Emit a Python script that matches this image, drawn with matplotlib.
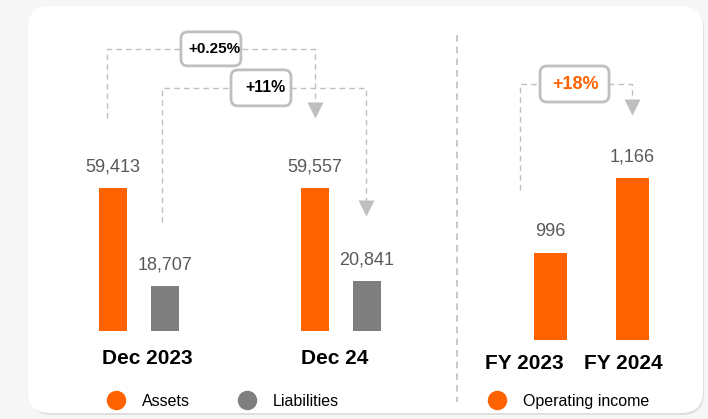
import numpy as np
import matplotlib.pyplot as plt
from matplotlib.patches import FancyBboxPatch
from matplotlib.lines import Line2D
from matplotlib.transforms import ScaledTranslation

plt.rcParams['font.family'] = ['Liberation Sans', 'DejaVu Sans']

# data
periods = ['Dec 2023', 'Dec 24']
assets = [59413, 59557]
liabilities = [18707, 20841]
years = ['FY 2023', 'FY 2024']
op_income = [996, 1166]
assets_change = '+0.25%'
liab_change = '+11%'
income_change = '+18%'

ORANGE = '#ff6200'
GREY = '#7f7f7f'
LINE = '#bfbfbf'
TEXT = '#595959'

W, H = 708, 419
fig = plt.figure(figsize=(W / 100, H / 100), dpi=100)
fig.patch.set_facecolor('#f6f6f6')


def px(x0, y0, x1, y1):
    # pixel box (top-left origin) -> figure fractions
    return [x0 / W, 1 - y1 / H, (x1 - x0) / W, (y1 - y0) / H]


# white card with a soft shadow
shadow = FancyBboxPatch((0.30, 0.04), 6.74, 4.07, boxstyle='round,pad=0,rounding_size=0.22',
                        transform=fig.dpi_scale_trans, fc='#dedede', ec='none', zorder=-6)
card = FancyBboxPatch((0.28, 0.06), 6.75, 4.07, boxstyle='round,pad=0,rounding_size=0.22',
                      transform=fig.dpi_scale_trans, fc='white', ec='none', zorder=-5)
fig.add_artist(shadow)
fig.add_artist(card)

# separator
fig.add_artist(Line2D([457 / W, 457 / W], [1 - 35 / H, 1 - 402 / H], transform=fig.transFigure,
                      color=LINE, lw=1.2, ls=(0, (4, 3))))


def clean(ax):
    ax.set_facecolor('none')
    for s in ax.spines.values():
        s.set_visible(False)
    ax.set_yticks([])
    ax.tick_params(axis='x', length=0)


def bracket(ax, x0, y0, x1, y1, ytop, label, lx, bx, bw, bh, color, size):
    ax.plot([x0, x0, x1, x1], [y0, ytop, ytop, y1], color=LINE, lw=1, ls=(0, (4, 3)))
    ax.plot(x1, y1, marker='v', ms=11.5, color=LINE, mec='none')
    # rounded label box, sized in pixels, anchored at (bx, ytop)
    tr = fig.dpi_scale_trans + ScaledTranslation(bx, ytop, ax.transData)
    box = FancyBboxPatch((-bw / 200, -bh / 200), bw / 100, bh / 100,
                         boxstyle='round,pad=0,rounding_size=0.07', transform=tr,
                         fc='white', ec=LINE, lw=2, zorder=3)
    ax.add_artist(box)
    ax.text(lx, ytop, label, ha='center', va='center', fontsize=size, fontweight='bold',
            color=color, zorder=4)


# ---- left: assets & liabilities
ax1 = fig.add_axes(px(28, 20, 450, 331))
clean(ax1)
x = np.arange(len(periods))
off, bw = 0.129, 0.139
ax1.bar(x - off, assets, bw, color=ORANGE)
ax1.bar(x + off, liabilities, bw, color=GREY)
for xi, v in zip(x - off, assets):
    ax1.annotate(f'{v:,}', (xi, v), xytext=(0, 15), textcoords='offset points',
                 ha='center', va='center', fontsize=13, color=TEXT)
for xi, v in zip(x + off, liabilities):
    ax1.annotate(f'{v:,}', (xi, v), xytext=(0, 15), textcoords='offset points',
                 ha='center', va='center', fontsize=13, color=TEXT)
ax1.set_xlim(-0.5495, 1.5396)
ax1.set_ylim(0, 129200)
ax1.set_xticks(x + np.array([0.042, -0.03]))
ax1.set_xticklabels(periods, fontsize=15, fontweight='bold')
ax1.tick_params(axis='x', pad=13)

bracket(ax1, -off - 0.03, 88500, 1 - off, 92000, 117200, assets_change, 0.371, 0.356, 60, 34, 'black', 11)
bracket(ax1, off - 0.015, 45300, 1 + off - 0.005, 51300, 101000, liab_change, 0.626, 0.604, 60, 36, 'black', 11.4)

ax1.legend(handles=[Line2D([], [], ls='none', marker='o', ms=13, color=ORANGE, label='Assets'),
                    Line2D([], [], ls='none', marker='o', ms=13, color=GREY, label='Liabilities')],
           loc='center left', bbox_to_anchor=(108 / W, 1 - 401 / H), bbox_transform=fig.transFigure,
           ncol=2, frameon=False, handlelength=1.0, handletextpad=1.1, columnspacing=3.1,
           borderpad=0, borderaxespad=0, prop={'size': 11.5})

# ---- right: operating income
ax2 = fig.add_axes(px(460, 20, 705, 340))
clean(ax2)
xr = np.arange(len(years))
ax2.bar(xr, op_income, 0.4, color=ORANGE)
for xi, v in zip(xr, op_income):
    ax2.annotate(f'{v:,}', (xi, v), xytext=(0, 15.5), textcoords='offset points',
                 ha='center', va='center', fontsize=13, color=TEXT)
ax2.set_xlim(-1.104, 1.884)
ax2.set_ylim(800, 1525)
ax2.set_xticks(xr + np.array([-0.317, -0.11]))
ax2.set_xticklabels(years, fontsize=15, fontweight='bold')
ax2.tick_params(axis='x', pad=10)

bracket(ax2, -0.372, 1140, 0.994, 1327, 1380, income_change, 0.305, 0.293, 69, 36, ORANGE, 13)

ax2.legend(handles=[Line2D([], [], ls='none', marker='o', ms=13, color=ORANGE, label='Operating income')],
           loc='center left', bbox_to_anchor=(489 / W, 1 - 401 / H), bbox_transform=fig.transFigure,
           frameon=False, handlelength=1.0, handletextpad=1.1,
           borderpad=0, borderaxespad=0, prop={'size': 11.5})

fig.savefig('out.png', dpi=100, facecolor=fig.get_facecolor())
